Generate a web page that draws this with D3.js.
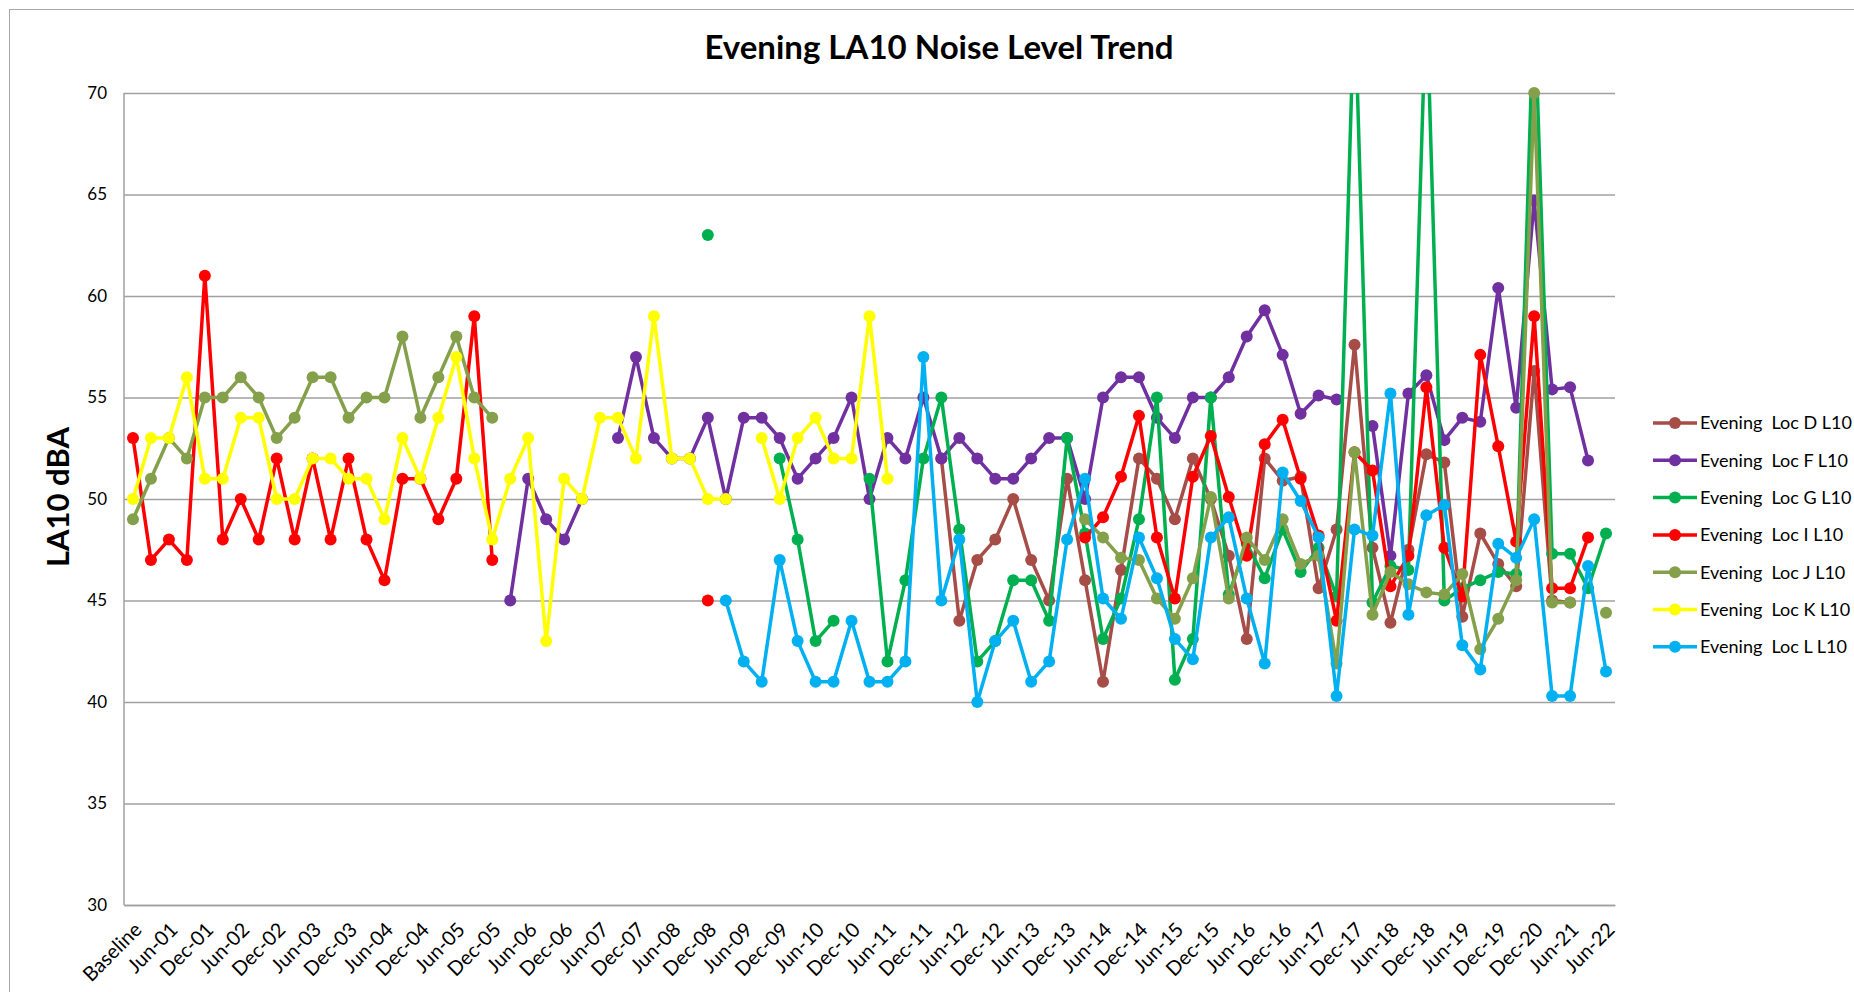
<!DOCTYPE html>
<html>
<head>
<meta charset="utf-8">
<script src="https://cdn.jsdelivr.net/npm/d3@7/dist/d3.min.js"></script>
<style>
  body { margin: 0; background: #fff; }
  svg { display: block; font-family: Lato, "Open Sans", sans-serif; }
</style>
</head>
<body>
<script>
const _ = null;

const categories = [
  "Baseline",
  "Mar-01", "Jun-01", "Sep-01", "Dec-01", "Mar-02", "Jun-02", "Sep-02", "Dec-02",
  "Mar-03", "Jun-03", "Sep-03", "Dec-03", "Mar-04", "Jun-04", "Sep-04", "Dec-04",
  "Mar-05", "Jun-05", "Sep-05", "Dec-05", "Mar-06", "Jun-06", "Sep-06", "Dec-06",
  "Mar-07", "Jun-07", "Sep-07", "Dec-07", "Mar-08", "Jun-08", "Sep-08", "Dec-08",
  "Mar-09", "Jun-09", "Sep-09", "Dec-09", "Mar-10", "Jun-10", "Sep-10", "Dec-10",
  "Mar-11", "Jun-11", "Sep-11", "Dec-11", "Mar-12", "Jun-12", "Sep-12", "Dec-12",
  "Mar-13", "Jun-13", "Sep-13", "Dec-13", "Mar-14", "Jun-14", "Sep-14", "Dec-14",
  "Mar-15", "Jun-15", "Sep-15", "Dec-15", "Mar-16", "Jun-16", "Sep-16", "Dec-16",
  "Mar-17", "Jun-17", "Sep-17", "Dec-17", "Mar-18", "Jun-18", "Sep-18", "Dec-18",
  "Mar-19", "Jun-19", "Sep-19", "Dec-19", "Jun-20", "Dec-20", "Mar-21", "Jun-21",
  "Dec-21", "Jun-22"
];

// evening LA10 (dBA) per survey, null = not measured
const locD = [
  _, _, _, _, _, _, _, _, _, _,
  _, _, _, _, _, _, _, _, _, _,
  _, _, _, _, _, _, _, _, _, _,
  _, _, _, _, _, _, _, _, _, _,
  _, _, _, _, _, 52, 44, 47, 48, 50,
  47, 45, 51, 46, 41, 46.5, 52, 51, 49, 52,
  50, 47.2, 43.1, 52, 50.9, 51.1, 45.6, 48.5, 57.6, 47.6,
  43.9, 47.5, 52.2, 51.8, 44.2, 48.3, 46.8, 45.7, 56.3, 45,
  44.9, _, _
];
const locF = [
  _, _, _, _, _, _, _, _, _, _,
  _, _, _, _, _, _, _, _, _, _,
  _, 45, 51, 49, 48, 50, _, 53, 57, 53,
  52, 52, 54, 50, 54, 54, 53, 51, 52, 53,
  55, 50, 53, 52, 55, 52, 53, 52, 51, 51,
  52, 53, 53, 50, 55, 56, 56, 54, 53, 55,
  55, 56, 58, 59.3, 57.1, 54.2, 55.1, 54.9, _, 53.6,
  47.2, 55.2, 56.1, 52.9, 54, 53.8, 60.4, 54.5, 64.7, 55.4,
  55.5, 51.9, _
];
const locG = [
  _, _, _, _, _, _, _, _, _, _,
  _, _, _, _, _, _, _, _, _, _,
  _, _, _, _, _, _, _, _, _, _,
  _, _, 63, _, _, _, 52, 48, 43, 44,
  _, 51, 42, 46, 52, 55, 48.5, 42, 43, 46,
  46, 44, 53, 48.3, 43.1, 45.1, 49, 55, 41.1, 43.1,
  55, 45.3, 47.8, 46.1, 48.5, 46.4, 47.6, 45.2, 75, 44.9,
  46.7, 46.5, 75, 45, 45.6, 46, 46.4, 46.3, 75, 47.3,
  47.3, 45.6, 48.3
];
const locI = [
  53, 47, 48, 47, 61, 48, 50, 48, 52, 48,
  52, 48, 52, 48, 46, 51, 51, 49, 51, 59,
  47, _, _, _, _, _, _, _, _, _,
  _, _, 45, _, _, _, _, _, _, _,
  _, _, _, _, _, _, _, _, _, _,
  _, _, _, 48.1, 49.1, 51.1, 54.1, 48.1, 45.1, 51.1,
  53.1, 50.1, 47.2, 52.7, 53.9, 51, 48.2, 44, 52.3, 51.4,
  45.7, 47.2, 55.5, 47.6, 45.2, 57.1, 52.6, 47.9, 59, 45.6,
  45.6, 48.1, _
];
const locJ = [
  49, 51, 53, 52, 55, 55, 56, 55, 53, 54,
  56, 56, 54, 55, 55, 58, 54, 56, 58, 55,
  54, _, _, _, _, _, _, _, _, _,
  _, _, _, _, _, _, _, _, _, _,
  _, _, _, _, _, _, _, _, _, _,
  _, _, _, 49, 48.1, 47.1, 47, 45.1, 44.1, 46.1,
  50.1, 45.1, 48.1, 47, 49, 46.8, 47.2, 41.9, 52.3, 44.3,
  46.4, 45.8, 45.4, 45.3, 46.3, 42.6, 44.1, 46, 70, 44.9,
  44.9, _, 44.4
];
const locK = [
  50, 53, 53, 56, 51, 51, 54, 54, 50, 50,
  52, 52, 51, 51, 49, 53, 51, 54, 57, 52,
  48, 51, 53, 43, 51, 50, 54, 54, 52, 59,
  52, 52, 50, 50, _, 53, 50, 53, 54, 52,
  52, 59, 51, _, _, _, _, _, _, _,
  _, _, _, _, _, _, _, _, _, _,
  _, _, _, _, _, _, _, _, _, _,
  _, _, _, _, _, _, _, _, _, _,
  _, _, _
];
const locL = [
  _, _, _, _, _, _, _, _, _, _,
  _, _, _, _, _, _, _, _, _, _,
  _, _, _, _, _, _, _, _, _, _,
  _, _, _, 45, 42, 41, 47, 43, 41, 41,
  44, 41, 41, 42, 57, 45, 48, 40, 43, 44,
  41, 42, 48, 51, 45.1, 44.1, 48.1, 46.1, 43.1, 42.1,
  48.1, 49.1, 45.1, 41.9, 51.3, 49.9, 48.1, 40.3, 48.5, 48.2,
  55.2, 44.3, 49.2, 49.7, 42.8, 41.6, 47.8, 47.1, 49, 40.3,
  40.3, 46.7, 41.5
];

const seriesNames = [
  "Evening  Loc D L10", "Evening  Loc F L10", "Evening  Loc G L10", "Evening  Loc I L10",
  "Evening  Loc J L10", "Evening  Loc K L10", "Evening  Loc L L10"
];
const seriesValues = [locD, locF, locG, locI, locJ, locK, locL];
const colors = ["#a64d48", "#7030a0", "#00b050", "#ff0000", "#84a04a", "#ffff00", "#00b0f0"];
const yTicks = [30, 35, 40, 45, 50, 55, 60, 65, 70];

const w = 1854;
const h = 992;
const plot = { left: 124, right: 1615, top: 93, bottom: 905 };
const grey = "#a0a0a0";

const svg = d3.select("body").append("svg").attr("width", w).attr("height", h);

svg.append("rect")
  .attr("x", 9.5).attr("y", 9.5)
  .attr("width", w).attr("height", h)
  .attr("fill", "none").attr("stroke", "#a6a6a6");

const x = d3.scaleBand().domain(categories).range([plot.left, plot.right]);
const y = d3.scaleLinear().domain([30, 70]).range([plot.bottom, plot.top]);
const cx = (i) => x(categories[i]) + x.bandwidth() / 2;

//gridlines and value labels
svg.append("g")
  .attr("transform", `translate(${plot.left},0)`)
  .call(d3.axisLeft(y).tickValues(yTicks).tickSize(-(plot.right - plot.left)).tickPadding(17))
  .attr("font-family", null).attr("font-size", 17)
  .call((g) => g.select(".domain").remove())
  .call((g) => g.selectAll("line").attr("stroke", grey).attr("stroke-width", 1.5))
  .call((g) => g.selectAll("text").attr("fill", "#000"));

svg.append("line")
  .attr("x1", plot.left).attr("x2", plot.left)
  .attr("y1", plot.top).attr("y2", plot.bottom)
  .attr("stroke", grey).attr("stroke-width", 1.5);

//category axis, every second label
const xAxis = svg.append("g")
  .attr("transform", `translate(0,${plot.bottom})`)
  .call(d3.axisBottom(x).tickValues(categories.filter((d, i) => i % 2 === 0)).tickSize(0).tickSizeOuter(0))
  .attr("font-family", null).attr("font-size", 20);

xAxis.select(".domain").attr("stroke", grey).attr("stroke-width", 1.5);
xAxis.selectAll("text")
  .attr("fill", "#000")
  .attr("text-anchor", "end")
  .attr("x", 0).attr("y", 0).attr("dy", "0.35em")
  .attr("transform", "translate(5,21) rotate(-45)");

svg.append("clipPath").attr("id", "plotClip")
  .append("rect")
  .attr("x", plot.left).attr("y", plot.top)
  .attr("width", plot.right - plot.left).attr("height", plot.bottom - plot.top);

const line = d3.line()
  .defined((d) => d != null)
  .x((d, i) => cx(i))
  .y((d) => y(d));

seriesValues.forEach((vals, s) => {
  const g = svg.append("g");
  g.append("path")
    .attr("d", line(vals))
    .attr("clip-path", "url(#plotClip)")
    .attr("fill", "none")
    .attr("stroke", colors[s])
    .attr("stroke-width", 3.5)
    .attr("stroke-linejoin", "round");
  g.selectAll("circle")
    .data(vals.map((v, i) => ({ v, i })).filter((d) => d.v != null && d.v <= 70))
    .enter()
    .append("circle")
    .attr("cx", (d) => cx(d.i))
    .attr("cy", (d) => y(d.v))
    .attr("r", 6)
    .attr("fill", colors[s]);
});

svg.append("text")
  .attr("x", 939).attr("y", 59)
  .attr("text-anchor", "middle")
  .attr("font-size", 33).attr("font-weight", "bold")
  .text("Evening LA10 Noise Level Trend");

svg.append("text")
  .attr("transform", "translate(58,497) rotate(-90)")
  .attr("text-anchor", "middle").attr("dy", "0.35em")
  .attr("font-size", 31).attr("font-weight", "bold")
  .text("LA10 dBA");

//legend
const legend = svg.selectAll(".legend")
  .data(seriesNames)
  .enter()
  .append("g")
  .attr("class", "legend")
  .attr("transform", (d, i) => `translate(1653,${423 + i * 37.3})`);

legend.append("line")
  .attr("x1", 0).attr("x2", 44)
  .attr("stroke", (d, i) => colors[i]).attr("stroke-width", 3.5);
legend.append("circle")
  .attr("cx", 22).attr("r", 6)
  .attr("fill", (d, i) => colors[i]);
legend.append("text")
  .attr("x", 47).attr("dy", "0.35em")
  .attr("font-size", 18)
  .style("white-space", "pre")
  .text((d) => d);
</script>
</body>
</html>
